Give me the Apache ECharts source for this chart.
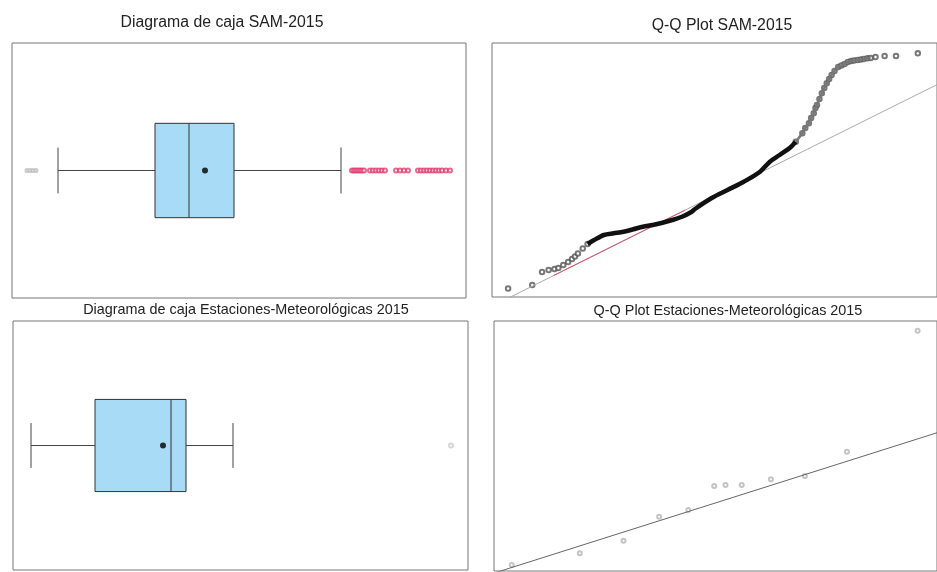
<!DOCTYPE html>
<html>
<head>
<meta charset="utf-8">
<script src="https://cdn.jsdelivr.net/npm/echarts@6/dist/echarts.min.js"></script>
<style>html,body{margin:0;background:#fff}#main{width:937px;height:572px}</style>
</head>
<body>
<div id="main"></div>
<script>
// resumen de cajas: [bigote inf, Q1, mediana, Q3, bigote sup]
var samBox = [4.6, 14.3, 17.7, 22.2, 32.9];
var samMean = 19.3;
var samOutLow = [1.5, 1.8, 2.1, 2.4];
var samOutHigh = [34.0, 34.2, 34.4, 34.6, 34.8, 35.0, 35.2, 35.8, 36.1, 36.4, 36.7, 37.0, 37.3,
    38.4, 38.8, 39.2, 39.6, 40.6, 40.9, 41.2, 41.5, 41.8, 42.1, 42.4, 42.7, 43.0, 43.4, 43.8];
var estBox = [1.8, 8.2, 15.8, 17.3, 22.0];
var estMean = 15.0;
var estOut = [43.8];

// Q-Q: [cuantil teorico, cuantil muestral]
var samQQLow = [[-3.525, 1.7], [-3.112, 2.4], [-2.945, 5.0], [-2.833, 5.4], [-2.733, 5.6], [-2.667, 5.8],
    [-2.583, 6.4], [-2.5, 7.0], [-2.433, 7.6], [-2.383, 8.1], [-2.333, 8.7], [-2.25, 9.7], [-2.167, 10.6]];
var samQQBody = [[-2.167, 10.6], [-2.055, 11.4], [-1.888, 12.4], [-1.722, 12.74], [-1.555, 13.06], [-1.388, 13.54],
    [-1.222, 14.06], [-1.055, 14.4], [-0.888, 14.86], [-0.722, 15.4], [-0.555, 16.06], [-0.388, 17.06],
    [-0.333, 17.6], [-0.055, 19.74], [0.222, 21.4], [0.5, 23.06], [0.778, 25.06], [0.945, 27.06],
    [1.112, 28.4], [1.278, 29.74], [1.388, 31.06]];
var samQQHigh = [[1.388, 31.06], [1.5, 32.74], [1.55, 33.8], [1.612, 34.74], [1.65, 35.8], [1.695, 36.74], [1.725, 37.8],
    [1.75, 38.4], [1.792, 39.6], [1.833, 40.74], [1.875, 41.8], [1.917, 42.74], [1.958, 43.6], [2.0, 44.4],
    [2.05, 45.2], [2.112, 46.0], [2.167, 46.3], [2.222, 46.6], [2.278, 47.0], [2.333, 47.2], [2.383, 47.3],
    [2.445, 47.4], [2.5, 47.5], [2.55, 47.6], [2.612, 47.74], [2.667, 47.8], [2.75, 48.0], [2.905, 48.2],
    [3.1, 48.2], [3.472, 48.74]];
var samRef = [[-3.8, -1.85], [3.8, 42.47]];
var samRefRed = [[-2.75, 4.27], [-0.5, 17.39]];

var estQQ = [[-3.495, 1.2], [-2.328, 3.54], [-1.578, 6.06], [-0.967, 10.86], [-0.467, 12.2], [-0.022, 17.0],
    [0.172, 17.2], [0.45, 17.2], [0.95, 18.34], [1.533, 19.0], [2.255, 23.86], [3.467, 48.06]];
var estRef = [[-3.8, -0.42], [3.8, 27.65]];

var myChart = echarts.init(document.getElementById('main'));

var hidden = {
    axisLine: { show: false }, axisTick: { show: false },
    axisLabel: { show: false }, splitLine: { show: false }
};
function ax(o) { return Object.assign({}, hidden, o); }

var bigTitle = { fontFamily: 'Liberation Sans', fontWeight: 'normal', fontSize: 15.8, color: '#222' };
var smallTitle = { fontFamily: 'Liberation Sans', fontWeight: 'normal', fontSize: 14.4, color: '#222' };

// caja estilo R: caja, mediana, bigotes y topes cortos
function renderBox(params, api) {
    var band = api.size([0, 1])[1];
    var hb = band * 0.185, hc = band * 0.09;
    var p = [];
    for (var i = 1; i <= 5; i++) p.push(api.coord([api.value(i), api.value(0)]));
    var cy = p[0][1];
    var ls = { stroke: '#444', lineWidth: 1 };
    return {
        type: 'group',
        children: [
            { type: 'line', shape: { x1: p[0][0], y1: cy, x2: p[1][0], y2: cy }, style: ls },
            { type: 'line', shape: { x1: p[3][0], y1: cy, x2: p[4][0], y2: cy }, style: ls },
            { type: 'line', shape: { x1: p[0][0], y1: cy - hc, x2: p[0][0], y2: cy + hc }, style: ls },
            { type: 'line', shape: { x1: p[4][0], y1: cy - hc, x2: p[4][0], y2: cy + hc }, style: ls },
            { type: 'rect', shape: { x: p[1][0], y: cy - hb, width: p[3][0] - p[1][0], height: hb * 2 },
              style: { fill: '#a8dbf6', stroke: '#333', lineWidth: 1 } },
            { type: 'line', shape: { x1: p[2][0], y1: cy - hb, x2: p[2][0], y2: cy + hb }, style: { stroke: '#333', lineWidth: 1 } }
        ]
    };
}

var option = {
    backgroundColor: '#fff',
    animation: false,
    title: [
        { text: 'Diagrama de caja SAM-2015', left: 222, top: 15, textAlign: 'center', padding: 0, textStyle: bigTitle },
        { text: 'Q-Q Plot SAM-2015', left: 722, top: 18, textAlign: 'center', padding: 0, textStyle: bigTitle },
        { text: 'Diagrama de caja Estaciones-Meteorológicas 2015', left: 246, top: 303, textAlign: 'center', padding: 0, textStyle: smallTitle },
        { text: 'Q-Q Plot Estaciones-Meteorológicas 2015', left: 728, top: 304, textAlign: 'center', padding: 0, textStyle: smallTitle }
    ],
    grid: [
        { left: 12, top: 43, width: 454, height: 255, show: true, borderColor: '#777', borderWidth: 1 },
        { left: 492, top: 43, width: 456, height: 254, show: true, borderColor: '#777', borderWidth: 1 },
        { left: 13, top: 321, width: 455, height: 249, show: true, borderColor: '#777', borderWidth: 1 },
        { left: 494, top: 321, width: 456, height: 250, show: true, borderColor: '#777', borderWidth: 1 }
    ],
    xAxis: [
        ax({ type: 'value', gridIndex: 0, min: 0, max: 45.4 }),
        ax({ type: 'value', gridIndex: 1, min: -3.8, max: 3.8 }),
        ax({ type: 'value', gridIndex: 2, min: 0, max: 45.5 }),
        ax({ type: 'value', gridIndex: 3, min: -3.8, max: 3.8 })
    ],
    yAxis: [
        ax({ type: 'category', gridIndex: 0, data: ['SAM-2015'] }),
        ax({ type: 'value', gridIndex: 1, min: 0, max: 50.8 }),
        ax({ type: 'category', gridIndex: 2, data: ['Estaciones'] }),
        ax({ type: 'value', gridIndex: 3, min: 0, max: 50 })
    ],
    series: [
        // SAM caja
        { type: 'custom', xAxisIndex: 0, yAxisIndex: 0, renderItem: renderBox,
          encode: { x: [1, 2, 3, 4, 5], y: 0 }, data: [[0].concat(samBox)] },
        { type: 'scatter', xAxisIndex: 0, yAxisIndex: 0, symbolSize: 6, itemStyle: { color: '#000' },
          data: [[samMean, 0]] },
        { type: 'scatter', xAxisIndex: 0, yAxisIndex: 0, symbol: 'emptyCircle', symbolSize: 3,
          itemStyle: { color: '#bbb', borderWidth: 1 }, data: samOutLow.map(function (v) { return [v, 0]; }) },
        { type: 'scatter', xAxisIndex: 0, yAxisIndex: 0, symbol: 'emptyCircle', symbolSize: 4,
          itemStyle: { color: '#e0356a', borderWidth: 1, opacity: 0.75 }, data: samOutHigh.map(function (v) { return [v, 0]; }) },
        // SAM Q-Q
        { type: 'line', xAxisIndex: 1, yAxisIndex: 1, data: samRef, symbol: 'none',
          lineStyle: { color: '#aaa', width: 1 } },
        { type: 'line', xAxisIndex: 1, yAxisIndex: 1, data: samRefRed, symbol: 'none',
          lineStyle: { color: '#e0506a', width: 1 } },
        { type: 'line', xAxisIndex: 1, yAxisIndex: 1, data: samQQBody, symbol: 'none', smooth: 0.3,
          lineStyle: { color: '#111', width: 4.5 } },
        { type: 'line', xAxisIndex: 1, yAxisIndex: 1, symbol: 'none', smooth: 0.3,
          data: samQQHigh.filter(function (p) { return p[0] < 2.7; }),
          lineStyle: { color: '#777', width: 2.5 } },
        { type: 'scatter', xAxisIndex: 1, yAxisIndex: 1, symbol: 'emptyCircle', symbolSize: 4.5,
          itemStyle: { color: '#555', borderWidth: 1 }, data: samQQLow.concat(samQQHigh) },
        // Estaciones caja
        { type: 'custom', xAxisIndex: 2, yAxisIndex: 2, renderItem: renderBox,
          encode: { x: [1, 2, 3, 4, 5], y: 0 }, data: [[0].concat(estBox)] },
        { type: 'scatter', xAxisIndex: 2, yAxisIndex: 2, symbolSize: 6, itemStyle: { color: '#000' },
          data: [[estMean, 0]] },
        { type: 'scatter', xAxisIndex: 2, yAxisIndex: 2, symbol: 'emptyCircle', symbolSize: 4,
          itemStyle: { color: '#ccc', borderWidth: 1 }, data: estOut.map(function (v) { return [v, 0]; }) },
        // Estaciones Q-Q
        { type: 'line', xAxisIndex: 3, yAxisIndex: 3, data: estRef, symbol: 'none',
          lineStyle: { color: '#666', width: 1 } },
        { type: 'scatter', xAxisIndex: 3, yAxisIndex: 3, symbol: 'emptyCircle', symbolSize: 4,
          itemStyle: { color: '#b5b5b5', borderWidth: 1 }, data: estQQ }
    ]
};
myChart.setOption(option);
</script>
</body>
</html>
